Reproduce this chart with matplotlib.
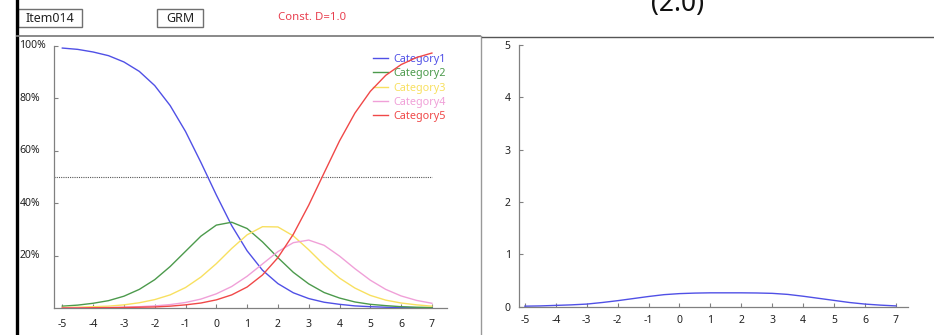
import matplotlib
matplotlib.use('Agg')
import matplotlib.pyplot as plt
import matplotlib.transforms as mtransforms
from matplotlib.lines import Line2D
from matplotlib.patches import Rectangle

plt.rcParams['font.family'] = ['Noto Sans', 'DejaVu Sans']
plt.rcParams['axes.unicode_minus'] = False

# ability scale, read every half unit
theta = [-5, -4.5, -4, -3.5, -3, -2.5, -2, -1.5, -1, -0.5, 0, 0.5, 1,
         1.5, 2, 2.5, 3, 3.5, 4, 4.5, 5, 5.5, 6, 6.5, 7]

cat1 = [0.991, 0.986, 0.976, 0.962, 0.938, 0.902, 0.848, 0.772, 0.673, 0.555, 0.431, 0.314, 0.218,
        0.144, 0.093, 0.058, 0.036, 0.022, 0.014, 0.008, 0.005, 0.003, 0.002, 0.001, 0.001]
cat2 = [0.007, 0.011, 0.018, 0.028, 0.045, 0.071, 0.108, 0.158, 0.216, 0.274, 0.316, 0.327, 0.303,
        0.252, 0.192, 0.136, 0.092, 0.059, 0.038, 0.023, 0.014, 0.009, 0.005, 0.003, 0.002]
cat3 = [0.002, 0.003, 0.005, 0.007, 0.012, 0.020, 0.032, 0.050, 0.078, 0.118, 0.169, 0.227, 0.279,
        0.310, 0.309, 0.275, 0.222, 0.164, 0.114, 0.076, 0.048, 0.030, 0.019, 0.012, 0.007]
cat4 = [0.000, 0.001, 0.001, 0.002, 0.003, 0.005, 0.008, 0.013, 0.021, 0.034, 0.054, 0.082, 0.121,
        0.168, 0.215, 0.249, 0.259, 0.239, 0.198, 0.150, 0.106, 0.071, 0.046, 0.029, 0.018]
cat5 = [0.000, 0.000, 0.001, 0.001, 0.002, 0.003, 0.004, 0.007, 0.012, 0.019, 0.031, 0.050, 0.080,
        0.126, 0.192, 0.281, 0.392, 0.515, 0.637, 0.743, 0.826, 0.887, 0.928, 0.955, 0.972]

info = [0.010, 0.015, 0.025, 0.035, 0.050, 0.080, 0.115, 0.155, 0.195, 0.230, 0.250, 0.260, 0.265,
        0.265, 0.265, 0.262, 0.255, 0.235, 0.200, 0.160, 0.120, 0.080, 0.050, 0.030, 0.015]

categories = ['Category1', 'Category2', 'Category3', 'Category4', 'Category5']
colors = ['#5050e6', '#4c9a4c', '#f8e060', '#f0a0d8', '#f04848']
xticks = list(range(-5, 8))
yticks = [0.2, 0.4, 0.6, 0.8, 1.0]
ytick_labels = ['20%', '40%', '60%', '80%', '100%']

W, H = 934, 335
fig = plt.figure(figsize=(W / 100, H / 100), dpi=100)


def fx(x):
    return x / W


def fy(y):
    return 1 - y / H


def hline(x0, x1, y, **kw):
    fig.add_artist(Line2D([fx(x0), fx(x1)], [fy(y), fy(y)], transform=fig.transFigure, **kw))


def vline(x, y0, y1, **kw):
    fig.add_artist(Line2D([fx(x), fx(x)], [fy(y0), fy(y1)], transform=fig.transFigure, **kw))


def style_axes(ax):
    for s in ['top', 'right']:
        ax.spines[s].set_visible(False)
    for s in ['left', 'bottom']:
        ax.spines[s].set_color('#808080')
        ax.spines[s].set_linewidth(0.9)
    ax.tick_params(direction='in', length=3, color='#808080', labelsize=7.5,
                   labelcolor='#222222', width=0.8)
    ax.patch.set_alpha(0)


# left panel: category response curves
ax1 = fig.add_axes([fx(54), fy(308), fx(446.7) - fx(54), fy(45.7) - fy(308)])
lines = []
for vals, name, c in zip([cat1, cat2, cat3, cat4, cat5], categories, colors):
    ln, = ax1.plot(theta, vals, color=c, lw=1.0, label=name, zorder=3,
                   solid_joinstyle='round')
    lines.append(ln)
ax1.plot([-5.27, 7], [0.5, 0.5], color='#555555', lw=0.8, ls=(0, (1, 1)), zorder=2)
ax1.set_xlim(-5.27, 7.48)
ax1.set_ylim(0, 1.0)
ax1.set_xticks(xticks)
ax1.set_yticks(yticks)
ax1.set_yticklabels([])
style_axes(ax1)
ax1.tick_params(axis='x', pad=8)
ytrans = mtransforms.blended_transform_factory(fig.transFigure, ax1.transData)
for v, lab in zip(yticks, ytick_labels):
    ax1.text(fx(19.5), v, lab, transform=ytrans, ha='left', va='center',
             fontsize=7.5, color='#222222')
leg = ax1.legend(handles=lines, loc='upper left', bbox_to_anchor=(fx(373), fy(54)),
                 bbox_transform=fig.transFigure, frameon=False, fontsize=7.8,
                 labelcolor='linecolor', handlelength=1.35, handletextpad=0.5,
                 labelspacing=0.3, borderpad=0, borderaxespad=0)
leg.set_zorder(1)

# right panel: information curve
ax2 = fig.add_axes([fx(519), fy(306.7), fx(908) - fx(519), fy(45) - fy(306.7)])
ax2.plot(theta, info, color='#5050e6', lw=1.0, solid_joinstyle='round')
ax2.set_xlim(-5.19, 7.39)
ax2.set_ylim(0, 5)
ax2.set_xticks(xticks)
ax2.set_yticks(range(0, 6))
style_axes(ax2)
ax2.tick_params(axis='x', pad=6)
ax2.tick_params(axis='y', pad=6)

# frame lines and header
vline(16.5, 0, 335, color='black', lw=2.4)
hline(17, 480, 36, color='#808080', lw=1.3)
vline(480.5, 36, 335, color='#999999', lw=1.0)
hline(482, 934, 37.3, color='#555555', lw=1.0)

for x0, x1, txt in [(18, 81.5, 'Item014'), (157, 203, 'GRM')]:
    fig.add_artist(Rectangle((fx(x0), fy(27)), fx(x1) - fx(x0), fy(9) - fy(27),
                             transform=fig.transFigure, fill=False, ec='#707070', lw=1.0))
    fig.text(fx((x0 + x1) / 2), fy(18.5), txt, ha='center', va='center', fontsize=9, color='#222222')
fig.text(fx(278), fy(18), 'Const. D=1.0', ha='left', va='center', fontsize=8.2, color='#e84050')
# title of the right panel, cut off by the top edge as in the original
fig.text(fx(678), fy(11), '(2.0)', ha='center', va='baseline', fontsize=19, color='#111111')

fig.savefig('out.png', dpi=100)
